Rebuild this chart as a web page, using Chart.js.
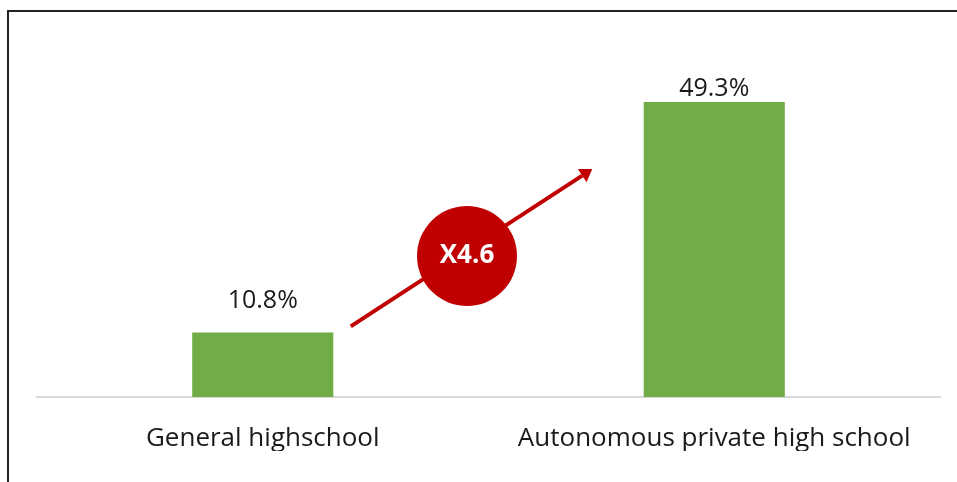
<!DOCTYPE html>
<html>
<head>
<meta charset="utf-8">
<script src="https://cdn.jsdelivr.net/npm/chart.js@4.4.1/dist/chart.umd.min.js"></script>
<style>
  html, body { margin: 0; padding: 0; background: #fff; }
  #wrap { position: relative; width: 957px; height: 482px; overflow: hidden; }
  #frame { position: absolute; left: 7px; top: 10px; width: 960px; height: 480px;
           border-left: 2px solid #222; border-top: 2px solid #222; box-sizing: border-box; }
  canvas { position: absolute; left: 0; top: 0; }
</style>
</head>
<body>
<div id="wrap">
  <div id="frame"></div>
  <canvas id="chart" width="957" height="482"></canvas>
</div>
<script>
const categories = ['General highschool', 'Autonomous private high school'];
const shares = [10.8, 49.3];
const shareLabels = ['10.8%', '49.3%'];
const ratioText = 'X4.6';

const FONT = '"Open Sans", "Noto Sans", sans-serif';

// value labels above bars
const valueLabels = {
  id: 'valueLabels',
  afterDatasetsDraw(chart) {
    const { ctx } = chart;
    const meta = chart.getDatasetMeta(0);
    const gaps = [24, 6];
    ctx.save();
    ctx.font = '25px ' + FONT;
    ctx.fillStyle = '#1a1a1a';
    ctx.textAlign = 'center';
    ctx.textBaseline = 'alphabetic';
    meta.data.forEach((bar, i) => {
      ctx.fillText(shareLabels[i], bar.x, bar.y - gaps[i]);
    });
    ctx.restore();
  }
};

// red growth arrow with the multiplier badge
const growthArrow = {
  id: 'growthArrow',
  afterDatasetsDraw(chart) {
    const { ctx } = chart;
    const meta = chart.getDatasetMeta(0);
    const a = meta.data[0], b = meta.data[1];
    const x1 = a.x + 88, y1 = a.y - 6;
    const x2 = b.x - 122, y2 = b.y + 67;
    const red = '#c00000';
    ctx.save();
    ctx.strokeStyle = red;
    ctx.fillStyle = red;
    ctx.lineWidth = 4;
    const ang = Math.atan2(y2 - y1, x2 - x1);
    const hx = x2 - Math.cos(ang) * 12, hy = y2 - Math.sin(ang) * 12;
    ctx.beginPath();
    ctx.moveTo(x1, y1);
    ctx.lineTo(hx, hy);
    ctx.stroke();
    ctx.beginPath();
    ctx.moveTo(x2, y2);
    ctx.lineTo(hx + Math.cos(ang + Math.PI / 2) * 8, hy + Math.sin(ang + Math.PI / 2) * 8);
    ctx.lineTo(hx + Math.cos(ang - Math.PI / 2) * 8, hy + Math.sin(ang - Math.PI / 2) * 8);
    ctx.closePath();
    ctx.fill();
    // badge
    const cx = 467, cy = 256;
    ctx.beginPath();
    ctx.arc(cx, cy, 50, 0, Math.PI * 2);
    ctx.fill();
    ctx.fillStyle = '#fff';
    ctx.font = 'bold 26px ' + FONT;
    ctx.textAlign = 'center';
    ctx.textBaseline = 'middle';
    ctx.fillText(ratioText, cx, cy);
    ctx.restore();
  }
};

new Chart(document.getElementById('chart'), {
  type: 'bar',
  data: {
    labels: categories,
    datasets: [{
      data: shares,
      backgroundColor: '#70ad47',
      barPercentage: 0.3125,
      categoryPercentage: 1
    }]
  },
  options: {
    responsive: false,
    animation: false,
    layout: { padding: { left: 37, right: 17, top: 68, bottom: 31 } },
    plugins: {
      legend: { display: false },
      tooltip: { enabled: false }
    },
    scales: {
      x: {
        afterFit(axis) { axis.height = 54; },
        grid: { display: false, drawTicks: false },
        border: { display: true, color: '#d9d9d9', width: 2 },
        ticks: { color: '#1a1a1a', font: { family: FONT, size: 26 }, padding: 26 }
      },
      y: {
        display: false,
        min: 0,
        max: 55
      }
    }
  },
  plugins: [valueLabels, growthArrow]
});
</script>
</body>
</html>
